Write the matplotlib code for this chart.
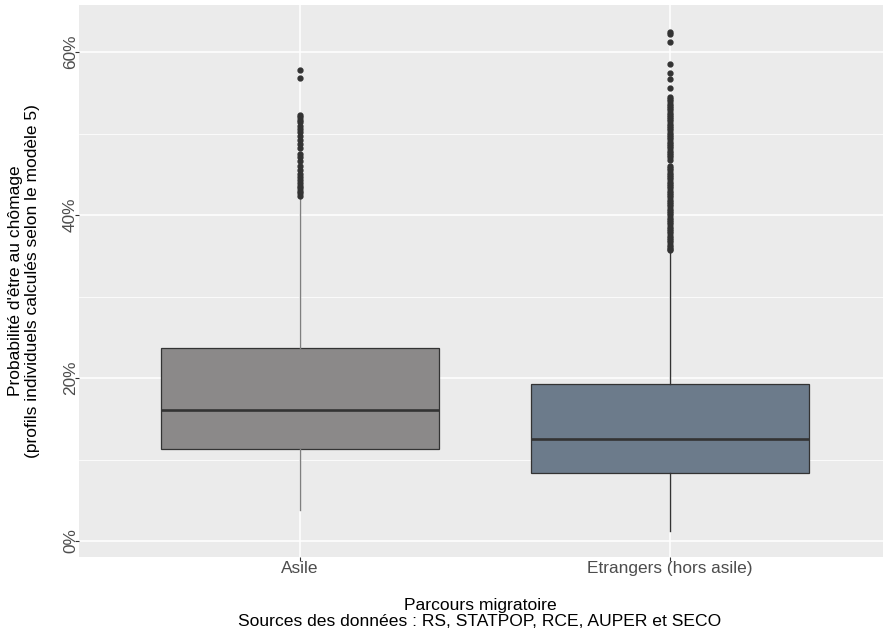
import matplotlib
matplotlib.use("Agg")
from matplotlib import pyplot as plt
from matplotlib.ticker import PercentFormatter, MultipleLocator

plt.rcParams['font.family'] = ['Liberation Sans', 'DejaVu Sans']

# Groupes et statistiques des boxplots (en %)
groupes = ["Asile", "Etrangers (hors asile)"]
q1 = [11.3, 8.3]
mediane = [16.1, 12.5]
q3 = [23.7, 19.3]
moustache_bas = [3.8, 1.2]
moustache_haut = [42.2, 35.5]

# Valeurs extrêmes
extremes_asile = [57.8, 56.9, 52.3, 52.0, 51.7, 51.4, 51.0, 50.6, 50.2, 49.7,
                  49.2, 48.7, 48.2, 47.5, 47.1, 46.6, 46.0, 45.5, 45.1, 44.7,
                  44.3, 43.9, 43.6, 43.3, 43.0, 42.7, 42.4]
extremes_etrangers = [62.5, 62.2, 61.2, 58.5, 57.5, 56.7, 55.6,
                      54.5, 54.2, 54.0, 53.7, 53.4, 53.1, 52.9, 52.6, 52.3, 52.0,
                      51.8, 51.5, 51.2, 50.9, 50.7, 50.4, 50.1, 49.8, 49.6, 49.3,
                      49.0, 48.7, 48.5, 48.2, 47.9, 47.6, 47.4, 47.1, 46.8, 46.0,
                      45.8, 45.5, 45.2, 44.9, 44.7, 44.4, 44.1, 43.8, 43.6, 43.3,
                      43.0, 42.7, 42.5, 42.2, 41.9, 41.6, 41.4, 41.1, 40.8, 40.5,
                      40.3, 40.0, 39.7, 39.4, 39.2, 38.9, 38.6, 38.3, 38.1, 37.8,
                      37.5, 37.2, 37.0, 36.7, 36.4, 36.1, 35.9, 35.7]
extremes = [extremes_asile, extremes_etrangers]

couleurs = ["#8B8989", "#6C7B8B"]
couleurs_moustache = ["#7F7F7F", "#333333"]

stats = []
for i in range(len(groupes)):
    stats.append(dict(label=groupes[i], q1=q1[i], med=mediane[i], q3=q3[i],
                      whislo=moustache_bas[i], whishi=moustache_haut[i],
                      fliers=extremes[i]))

fig = plt.figure(figsize=(8.83, 6.33), dpi=100)
ax = fig.add_axes([79 / 883, 1 - 557 / 633, 804 / 883, 552 / 633])
ax.set_facecolor("#EBEBEB")

# Grille façon ggplot
ax.yaxis.set_major_locator(MultipleLocator(20))
ax.yaxis.set_minor_locator(MultipleLocator(10))
ax.grid(which='major', color='white', linewidth=1.1)
ax.grid(which='minor', axis='y', color='white', linewidth=0.55)
ax.set_axisbelow(True)

for i in range(len(groupes)):
    ax.bxp([stats[i]], positions=[i + 1], widths=0.75, patch_artist=True,
           showcaps=False,
           boxprops=dict(facecolor=couleurs[i], edgecolor="#333333", linewidth=0.9),
           medianprops=dict(color="#333333", linewidth=1.9),
           whiskerprops=dict(color=couleurs_moustache[i], linewidth=1.0),
           flierprops=dict(marker='o', markersize=3.5, markerfacecolor="#333333",
                           markeredgecolor="#333333", linestyle='none'))

ax.set_xlim(0.403, 2.575)
ax.set_ylim(-1.96, 65.8)
ax.set_xticks([1, 2])
ax.set_xticklabels(groupes)
ax.yaxis.set_major_formatter(PercentFormatter(xmax=100, decimals=0))
for lbl in ax.get_yticklabels():
    lbl.set_rotation(90)
    lbl.set_va('center')

ax.tick_params(which='major', length=2.75, width=0.8, color="#333333",
               labelcolor="#4D4D4D", labelsize=12.4)
ax.tick_params(axis='x', pad=0.3)
ax.tick_params(axis='y', pad=-2)
ax.tick_params(which='minor', length=0)
for s in ax.spines.values():
    s.set_visible(False)

# Titres des axes
fig.text(24 / 883, 1 - 281 / 633,
         "Probabilité d'être au chômage\n(profils individuels calculés selon le modèle 5)",
         rotation=90, ha='center', va='center', fontsize=12.5, linespacing=1.1)
fig.text(480 / 883, 1 - 610 / 633, "Parcours migratoire",
         ha='center', va='baseline', fontsize=12.6)
fig.text(480 / 883, 1 - 626 / 633, "Sources des données : RS, STATPOP, RCE, AUPER et SECO",
         ha='center', va='baseline', fontsize=12.6)

fig.savefig("out.png", dpi=100)
